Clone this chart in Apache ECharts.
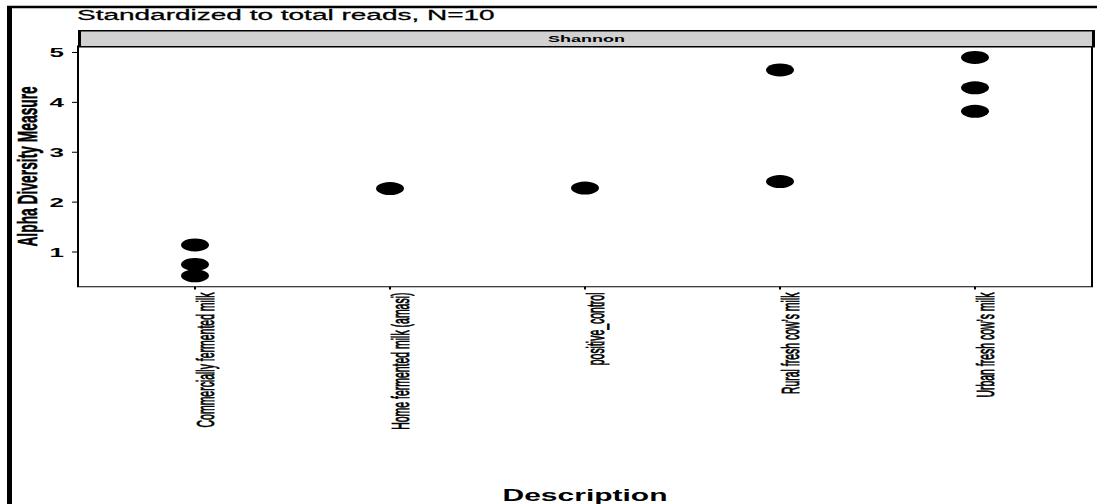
<!DOCTYPE html>
<html>
<head>
<meta charset="utf-8">
<script src="https://cdn.jsdelivr.net/npm/echarts@6/dist/echarts.min.js"></script>
<style>
  html, body { margin: 0; padding: 0; background: #fff; }
  #wrap { width: 1097px; height: 504px; overflow: hidden; }
  /* The figure is laid out on a taller canvas and compressed vertically */
  #chart { width: 1097px; height: 970px; transform: scaleY(0.5196); transform-origin: 0 0; }
</style>
</head>
<body>
<div id="wrap"><div id="chart"></div></div>
<script>
// Sample groups on the x axis
const categories = [
  'Commercially fermented milk',
  'Home fermented milk (amasi)',
  'positive_control',
  'Rural fresh cow\u2019s milk',
  'Urban fresh cow\u2019s milk'
];
// Shannon index per sample, grouped by category
const commercialValues = [1.14, 0.75, 0.52];
const homeValues = [2.27];
const controlValues = [2.28];
const ruralValues = [4.65, 2.41];
const urbanValues = [4.90, 4.29, 3.82];
const yTicks = [1, 2, 3, 4, 5];

const groups = [commercialValues, homeValues, controlValues, ruralValues, urbanValues];
const points = [];
groups.forEach((vals, i) => vals.forEach(v => points.push([i + 1, v])));
const xTicks = categories.map((_, i) => i + 1);

const FONT = 'Liberation Sans, Arial, sans-serif';
const GRID = { left: 78, right: 5, top: 88.5, bottom: 418 };

const chart = echarts.init(document.getElementById('chart'), null, { renderer: 'svg' });
chart.setOption({
  backgroundColor: '#fff',
  animation: false,
  title: {
    text: 'Standardized to total reads, N=10',
    left: 77, top: 15, padding: 0,
    textStyle: { fontFamily: FONT, fontSize: 28, fontWeight: 'normal', color: '#000',
                 textBorderColor: '#000', textBorderWidth: 0.5 }
  },
  grid: Object.assign({ show: true, borderColor: '#000', borderWidth: 2, backgroundColor: '#fff' }, GRID),
  xAxis: {
    type: 'value', min: 0.4, max: 5.6,
    name: 'Description', nameLocation: 'middle', nameGap: 386,
    nameTextStyle: { fontFamily: FONT, fontSize: 30, fontWeight: 'bold', color: '#000' },
    axisLine: { show: false },
    splitLine: { show: false },
    axisTick: { show: true, customValues: xTicks, length: 5, lineStyle: { color: '#000', width: 2 } },
    axisLabel: { show: false }
  },
  yAxis: {
    type: 'value', min: 0.3, max: 5.13,
    axisLine: { show: false },
    splitLine: { show: false },
    axisTick: { show: true, customValues: yTicks, length: 6, lineStyle: { color: '#000', width: 2 } },
    axisLabel: {
      customValues: yTicks, margin: 14,
      fontFamily: FONT, fontSize: 26, fontWeight: 'bold', color: '#000'
    }
  },
  series: [{
    type: 'scatter',
    data: points,
    symbol: 'circle',
    symbolSize: [28, 25],
    itemStyle: { color: '#000', opacity: 1 }
  }]
});

// Condensed, rotated category labels placed at the axis tick positions
const axisY = chart.convertToPixel({ yAxisIndex: 0 }, 0.3);
const categoryLabels = xTicks.map((v, i) => ({
  type: 'text',
  x: chart.convertToPixel({ xAxisIndex: 0 }, v) + 11,
  y: axisY + 11,
  rotation: Math.PI / 2,
  scaleX: 0.84,
  style: { text: categories[i], font: '24px ' + FONT, fill: '#000',
           stroke: '#000', lineWidth: 0.9,
           textAlign: 'right', textVerticalAlign: 'middle' }
}));

// Condensed y axis title centred on the panel
const panelMid = (chart.convertToPixel({ yAxisIndex: 0 }, 0.3) + chart.convertToPixel({ yAxisIndex: 0 }, 5.13)) / 2;
const yTitle = {
  type: 'text', x: 27, y: panelMid, rotation: Math.PI / 2, scaleX: 0.95,
  style: { text: 'Alpha Diversity Measure', font: 'bold 28px ' + FONT, fill: '#000',
           stroke: '#000', lineWidth: 0.6,
           textAlign: 'center', textVerticalAlign: 'middle' }
};

chart.setOption({
  graphic: [
    // facet strip above the panel
    {
      type: 'group', left: 78, top: 57.5,
      children: [
        { type: 'rect', shape: { x: 0, y: 0, width: 1014, height: 31 },
          style: { fill: '#d1d1d1', stroke: '#000', lineWidth: 3 } },
        { type: 'text', x: 507, y: 16,
          style: { text: 'Shannon', font: 'bold 18px ' + FONT, fill: '#000',
                   textAlign: 'center', textVerticalAlign: 'middle' } }
      ]
    },
    // outer figure frame (left and top edges)
    { type: 'polyline', shape: { points: [[9.5, 972], [9.5, 13.5], [1100, 13.5]] },
      style: { stroke: '#000', lineWidth: 5, fill: null } },
    yTitle
  ].concat(categoryLabels)
});
</script>
</body>
</html>
